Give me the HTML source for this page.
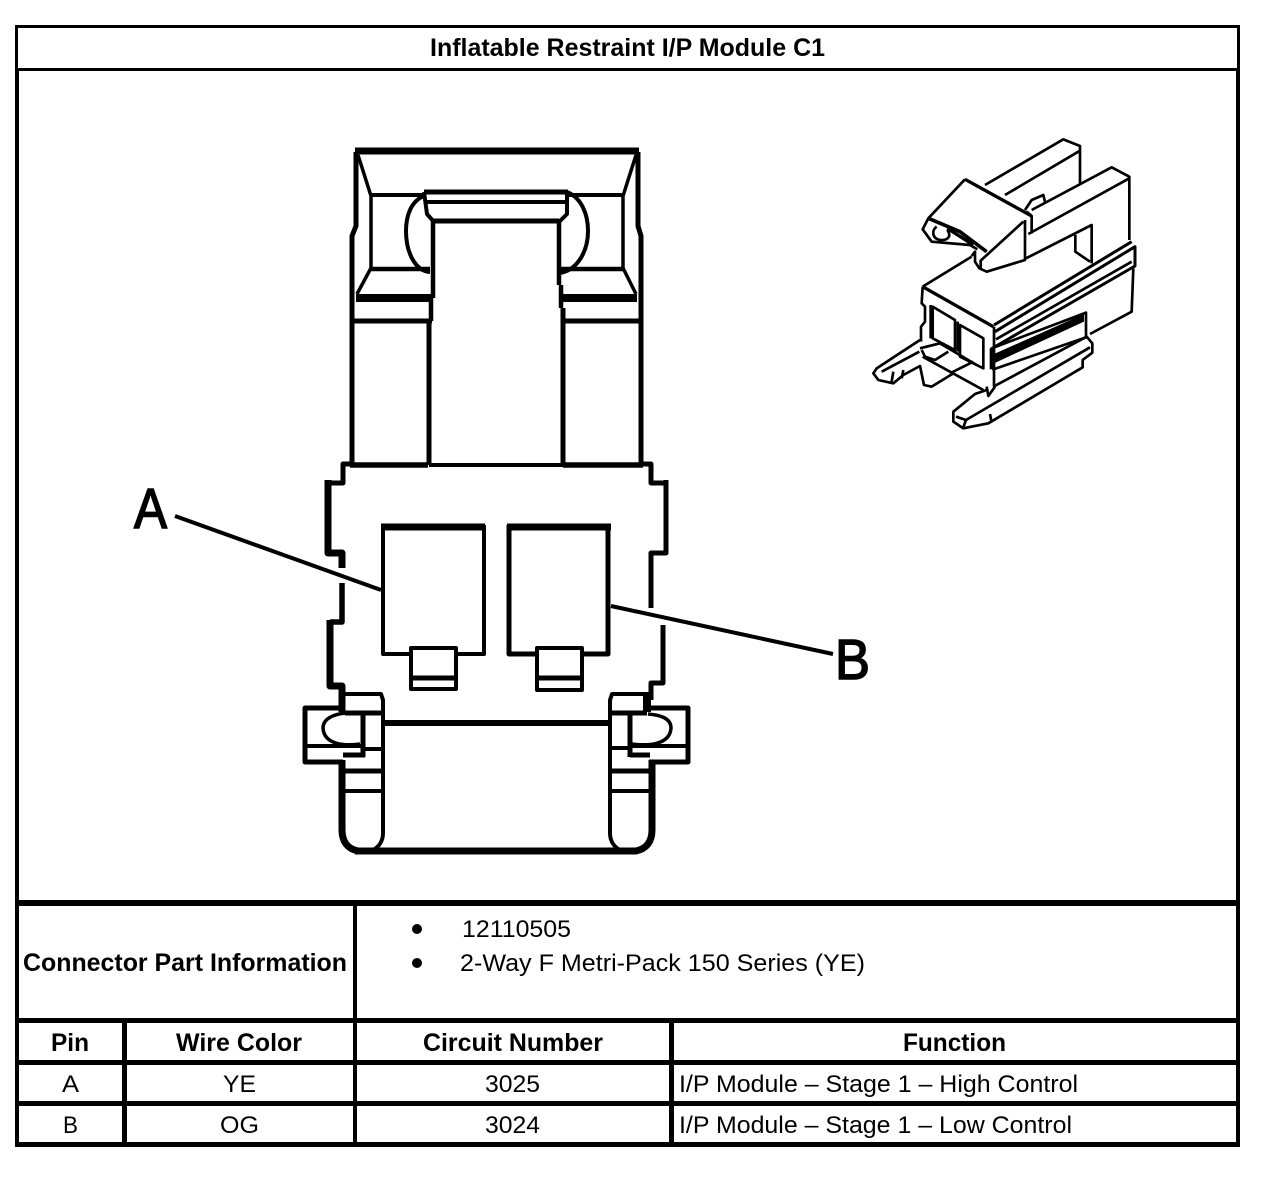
<!DOCTYPE html>
<html>
<head>
<meta charset="utf-8">
<title>Inflatable Restraint I/P Module C1</title>
<style>
html,body{margin:0;padding:0;background:#fff;width:1264px;height:1182px;overflow:hidden}
svg{display:block}
text{font-family:"Liberation Sans",Arial,sans-serif;fill:#000}
.b{font-weight:bold;font-size:25px}
.n{font-size:24.5px}
.l{fill:none;stroke:#000;stroke-linejoin:round}
</style>
</head>
<body>
<svg width="1264" height="1182" viewBox="0 0 1264 1182" xmlns="http://www.w3.org/2000/svg">
<rect width="1264" height="1182" fill="#fff"/>

<!-- table frame -->
<g fill="#000" shape-rendering="crispEdges">
<rect x="15" y="25" width="1225" height="3"/>
<rect x="15" y="25" width="3" height="45"/>
<rect x="1237" y="25" width="3" height="45"/>
<rect x="15" y="68" width="1225" height="3"/>
<rect x="15" y="70" width="4" height="1077"/>
<rect x="1236" y="70" width="4" height="1077"/>
<rect x="15" y="900" width="1225" height="6"/>
<rect x="15" y="1018" width="1225" height="5"/>
<rect x="15" y="1060" width="1225" height="5"/>
<rect x="15" y="1101" width="1225" height="5"/>
<rect x="15" y="1142" width="1225" height="5"/>
<rect x="353" y="900" width="4" height="247"/>
<rect x="122" y="1018" width="5" height="129"/>
<rect x="669" y="1018" width="5" height="129"/>
</g>

<!-- table text -->
<text class="b" x="430" y="56" textLength="395" lengthAdjust="spacingAndGlyphs">Inflatable Restraint I/P Module C1</text>
<text class="b" x="23" y="971" textLength="324" lengthAdjust="spacingAndGlyphs">Connector Part Information</text>
<circle cx="417" cy="929" r="5" fill="#000"/>
<circle cx="417" cy="963" r="5" fill="#000"/>
<text class="n" x="462" y="937" textLength="109" lengthAdjust="spacingAndGlyphs">12110505</text>
<text class="n" x="460" y="971" textLength="405" lengthAdjust="spacingAndGlyphs">2-Way F Metri-Pack 150 Series (YE)</text>
<text class="b" x="51" y="1051" textLength="38" lengthAdjust="spacingAndGlyphs">Pin</text>
<text class="b" x="176" y="1051" textLength="126" lengthAdjust="spacingAndGlyphs">Wire Color</text>
<text class="b" x="423" y="1051" textLength="180" lengthAdjust="spacingAndGlyphs">Circuit Number</text>
<text class="b" x="903" y="1051" textLength="103" lengthAdjust="spacingAndGlyphs">Function</text>
<text class="n" x="62" y="1092" textLength="17" lengthAdjust="spacingAndGlyphs">A</text>
<text class="n" x="223" y="1092" textLength="33" lengthAdjust="spacingAndGlyphs">YE</text>
<text class="n" x="485" y="1092" textLength="55" lengthAdjust="spacingAndGlyphs">3025</text>
<text class="n" x="679" y="1092" textLength="399" lengthAdjust="spacingAndGlyphs">I/P Module – Stage 1 – High Control</text>
<text class="n" x="63" y="1133" textLength="15" lengthAdjust="spacingAndGlyphs">B</text>
<text class="n" x="220" y="1133" textLength="39" lengthAdjust="spacingAndGlyphs">OG</text>
<text class="n" x="485" y="1133" textLength="55" lengthAdjust="spacingAndGlyphs">3024</text>
<text class="n" x="679" y="1133" textLength="393" lengthAdjust="spacingAndGlyphs">I/P Module – Stage 1 – Low Control</text>

<!-- callout letters -->
<text x="134" y="528" font-size="57" textLength="33" lengthAdjust="spacingAndGlyphs" stroke="#000" stroke-width="1.6">A</text>
<text x="835" y="679" font-size="57" textLength="35" lengthAdjust="spacingAndGlyphs" stroke="#000" stroke-width="1.6">B</text>
<path class="l" stroke-width="4" d="M175 516L381 590"/>
<path class="l" stroke-width="4" d="M611 606L833 654"/>

<!-- upper shroud -->
<g class="l">
<path stroke-width="7" d="M355 151H639"/>
<path stroke-width="5" d="M356 152V226L352 236V465"/>
<path stroke-width="5" d="M638 152V226L641 236V465"/>
<path stroke-width="3.5" d="M358 155L371 196V268L357 294"/>
<path stroke-width="3.5" d="M636 155L623 196V268L636 294"/>
<path stroke-width="4" d="M371 195H424M567 195H623"/>
<path stroke-width="4.5" d="M371 269H430M560 269H623"/>
<path stroke-width="8" d="M356 298H433M562 298H637"/>
<path stroke-width="5" d="M353 321H432M565 321H640"/>
<path stroke-width="5" d="M424 192H568"/>
<path stroke-width="4" d="M426 202H566"/>
<path stroke-width="5" d="M433 221H559"/>
<path stroke-width="4" d="M424 192L427 214L434 222M567 192V214L559 222"/>
<path stroke-width="4" d="M424 196C411 201 406 216 406 231C406 252 415 271 430 272"/>
<path stroke-width="4" d="M567 192C582 198 588 215 588 231C588 252 577 270 560 273"/>
<path stroke-width="4.5" d="M433 221V298M431 298V321"/>
<path stroke-width="5" d="M429 321V465"/>
<path stroke-width="4.5" d="M559 221V285M561 285V308"/>
<path stroke-width="5" d="M563 308V465"/>
<path stroke-width="4" d="M429 465H563"/>
<path stroke-width="5.5" d="M350 465H428M563 465H643"/>
</g>

<!-- body outline -->
<g class="l">
<path stroke-width="5" d="M352 464H343V483H329"/>
<path stroke-width="5" d="M641 464H651V483H665"/>
<path stroke-width="7" d="M328 480V553H342V568"/>
<path stroke-width="5.5" d="M342 583V622H330"/>
<path stroke-width="7" d="M330 620V686H342V712"/>
<path stroke-width="5" d="M666 480V553H651V608"/>
<path stroke-width="5" d="M663 625V683H651V700"/>
</g>

<!-- terminals -->
<g class="l">
<path stroke-width="7" d="M381 527H485"/>
<path stroke-width="4" d="M383 525V654H484V525"/>
<path stroke-width="7" d="M507 527H611"/>
<path stroke-width="5" d="M509 525V654H537"/>
<path stroke-width="5" d="M608 525V654H581"/>
<path stroke-width="4" fill="#fff" d="M411 648H456V689H411Z"/>
<path stroke-width="5" d="M411 678H456"/>
<path stroke-width="4" fill="#fff" d="M537 648H582V690H537Z"/>
<path stroke-width="5" d="M537 678H582"/>
</g>

<!-- lower latches -->
<g class="l">
<path stroke-width="6" d="M383 723H610"/>
<path stroke-width="7" d="M355 851H637"/>
<!-- left -->
<path stroke-width="4" d="M342 694H381L383 700V833C383 842 378 848 371 851"/>
<path stroke-width="7" d="M342 760V830C342 842 348 849 358 851"/>
<path stroke-width="5" d="M344 708H305V762H343"/>
<path stroke-width="4" d="M305 746H361M364 749H383"/>
<path stroke-width="5" d="M345 713H383M343 755H365"/>
<path stroke-width="5" d="M363 713V757"/>
<path stroke-width="3.5" d="M360 744C345 746 324 745 323 728C323 718 335 714 346 713"/>
<path stroke-width="5" d="M345 771H383"/>
<path stroke-width="4" d="M345 791H383"/>
<!-- right -->
<path stroke-width="4" d="M650 694H612L610 700V833C610 842 615 848 622 851"/>
<path stroke-width="7" d="M652 760V830C652 842 646 849 636 851"/>
<path stroke-width="8" d="M647 694V712"/>
<path stroke-width="5" d="M648 708H688V762H649"/>
<path stroke-width="4" d="M630 746H687M610 748H630"/>
<path stroke-width="5" d="M610 713H647M630 755H650"/>
<path stroke-width="5" d="M630 713V757"/>
<path stroke-width="3.5" d="M632 744C648 746 670 745 671 728C671 718 660 715 648 714"/>
<path stroke-width="5" d="M610 771H650"/>
<path stroke-width="4" d="M610 791H650"/>
</g>

<!-- isometric connector view -->
<g transform="translate(860 130) scale(.33333)" class="l" stroke-width="8">
<!-- rear arm -->
<path d="M375 165L610 28L660 48V165"/>
<path d="M435 195L660 62"/>
<path d="M495 240L515 210L550 195L556 220"/>
<path d="M515 240L755 112L808 140V330"/>
<path d="M505 312L808 145"/>
<path d="M498 385L695 285V400"/>
<path d="M646 315V365L690 395"/>
<!-- latch -->
<path d="M315 148L205 265L188 298L215 335L330 345L352 358"/>
<path stroke-width="11" d="M205 265L300 305L380 365"/>
<path stroke-width="10" d="M315 148L515 258"/>
<path d="M500 245L515 258V310"/>
<path d="M230 290C215 300 215 325 240 330C265 332 275 318 262 300"/>
<path stroke-width="10" d="M262 295L340 345"/>
<path d="M495 270V390L380 425L358 415L345 395V365L335 378"/>
<path d="M490 275L362 392V415"/>
<!-- body -->
<path d="M188 470L335 380"/>
<path stroke-width="10" d="M188 470L400 590"/>
<path d="M402 590V770"/>
<path d="M188 470L185 520L195 530V575L183 590V635"/>
<path d="M218 530L285 570V660L218 625Z"/>
<path d="M300 585L370 625V715L300 680Z"/>
<path d="M212 525V625M293 575V665"/>
<path d="M180 655L240 640L350 705"/>
<path d="M188 680L370 780"/>
<!-- rails -->
<path stroke-width="9" d="M402 585L815 335"/>
<path stroke-width="9" d="M405 605L825 350V408L405 650"/>
<path d="M408 628L815 395"/>
<path d="M820 415L815 545L690 612"/>
<path d="M395 655L678 548V622L400 718Z"/>
<path d="M395 655V718" stroke-width="12"/>
<path fill="#000" stroke="none" d="M402 672L672 552V575L402 700Z"/>
<!-- lower rail -->
<path d="M380 780L345 792L280 845V875L310 895L385 880L668 712V690L697 668V640L680 620L400 770"/>
<path d="M288 860L318 870L690 652"/>
<path d="M318 870L310 892"/>
<path d="M390 852L395 878"/>
<path d="M380 770L385 798L405 770"/>
<!-- blade -->
<path d="M180 630L50 715L40 730L55 750L100 760L130 735L180 708L192 765L215 770L280 730"/>
<path d="M65 725L178 665"/>
<path d="M95 755L100 725M125 745L130 720"/>
<path d="M270 730L340 695"/>
<path d="M185 660L195 680L225 690L265 665"/>
</g>
</svg>
</body>
</html>
